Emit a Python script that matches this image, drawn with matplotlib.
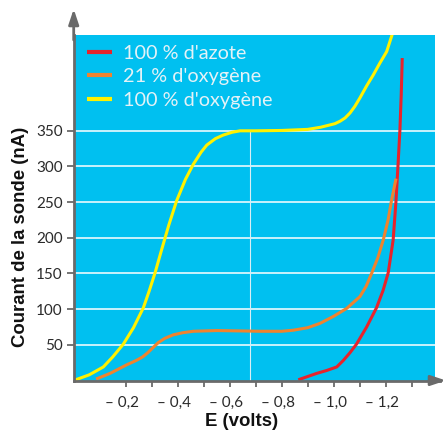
import matplotlib
matplotlib.use("Agg")
import matplotlib.pyplot as plt
from matplotlib.ticker import FixedLocator
from matplotlib.transforms import ScaledTranslation

# ---- data (E shown as magnitude in volts, current in nA) ----
azote_E = [0.864, 0.935, 0.973, 1.012, 1.037, 1.063, 1.088, 1.127, 1.165, 1.19, 1.21, 1.229, 1.24, 1.248,
           1.255, 1.26, 1.264]
azote_I = [1, 10, 14, 19, 28, 39, 51, 75, 102, 126, 151, 197, 252, 304, 351, 400, 452]

oxy21_E = [0.086, 0.14, 0.204, 0.24, 0.265, 0.285, 0.305, 0.325, 0.35, 0.383, 0.42, 0.46, 0.55, 0.64, 0.717,
           0.8, 0.845, 0.9, 0.947, 1.0, 1.05, 1.101, 1.125, 1.146, 1.17, 1.191, 1.21, 1.223, 1.24]
oxy21_I = [2, 10, 22, 28, 33, 39, 46, 53, 59, 64, 67, 69, 70, 69.5, 69,
           69, 70.5, 74, 80, 90, 101, 117.5, 132, 150, 172, 197, 226, 253, 283]

oxy100_E = [0.0, 0.06, 0.114, 0.15, 0.191, 0.23, 0.268, 0.29, 0.313, 0.338, 0.366, 0.396, 0.43, 0.46, 0.49,
            0.512, 0.545, 0.575, 0.61, 0.64, 0.7, 0.8, 0.9, 0.95, 1.005, 1.025, 1.044, 1.063, 1.082, 1.101,
            1.127, 1.152, 1.178, 1.204, 1.227]
oxy100_I = [0, 8, 19, 33, 51, 74, 102, 125, 151, 183, 218, 252, 282, 303, 320,
            330, 339, 344, 348, 350, 350, 350.5, 352, 355, 360, 363.5, 368, 375, 384.5, 396,
            413, 428, 445, 461, 487]

series_labels = ["100 % d'azote", "21 % d'oxygène", "100 % d'oxygène"]
series_colors = ["#E8232B", "#F0832E", "#FFF100"]

y_ticks = [50, 100, 150, 200, 250, 300, 350]
x_major = [0.2, 0.4, 0.6, 0.8, 1.0, 1.2]
x_major_labels = ["– 0,2", "– 0,4", "– 0,6", "– 0,8", "– 1,0", "– 1,2"]
x_minor = [0.3, 0.5, 0.7, 0.9, 1.1, 1.3]
ref_E = 0.678
plateau = 350

W, H = 446, 434
fig = plt.figure(figsize=(W / 100, H / 100), dpi=100)
fig.patch.set_facecolor("white")

left, right, bottom, top = 73.7, 435, 380.5, 34.5
ax = fig.add_axes([left / W, 1 - bottom / H, (right - left) / W, (bottom - top) / H])
ax.set_facecolor("#00C0F0")
ax.set_xlim(0, 1.39)
ax.set_ylim(0, 485)

for s in ["top", "right"]:
    ax.spines[s].set_visible(False)
for s in ["left", "bottom"]:
    ax.spines[s].set_color("#6A6A6A")
    ax.spines[s].set_linewidth(2.0)
    ax.spines[s].set_zorder(5)

# grid
for yv in y_ticks:
    ax.axhline(yv, color="white", lw=1.1, zorder=1)
ax.plot([ref_E, ref_E], [0, plateau], color="#D8EEF5", lw=0.8, zorder=1)

lines = []
for (xs, ys), lab, col in zip([(azote_E, azote_I), (oxy21_E, oxy21_I), (oxy100_E, oxy100_I)],
                              series_labels, series_colors):
    ln, = ax.plot(xs, ys, color=col, lw=2.2, label=lab, solid_capstyle="butt",
                  solid_joinstyle="round", zorder=3)
    lines.append(ln)

tick_font = ["Lato", "DejaVu Sans"]
ax.set_yticks(y_ticks)
ax.set_yticklabels([str(v) for v in y_ticks], fontsize=11, color="#2A2A2A", family=tick_font)
ax.tick_params(axis="y", length=5, width=1.3, color="#6A6A6A", pad=3)

ax.xaxis.set_major_locator(FixedLocator(x_major))
ax.xaxis.set_minor_locator(FixedLocator(x_minor))
ax.set_xticklabels(x_major_labels, fontsize=11, color="#2A2A2A", family=tick_font)
ax.tick_params(axis="x", which="both", length=4, width=1.3, color="#6A6A6A", pad=7, direction="out")
shift = ScaledTranslation(-4 / 100, 0, fig.dpi_scale_trans)
for lbl in ax.get_xticklabels():
    lbl.set_transform(lbl.get_transform() + shift)

# arrows on axes
ax.annotate("", xy=(left / W, 1 - 9 / H), xytext=(left / W, 1 - 40 / H), xycoords="figure fraction",
            arrowprops=dict(arrowstyle="-|>,head_length=0.9,head_width=0.3", color="#6A6A6A", lw=2.0,
                            shrinkA=0, shrinkB=0))
ax.annotate("", xy=(446 / W, 1 - 380.5 / H), xytext=(430 / W, 1 - 380.5 / H), xycoords="figure fraction",
            arrowprops=dict(arrowstyle="-|>,head_length=0.9,head_width=0.3", color="#6A6A6A", lw=2.0,
                            shrinkA=0, shrinkB=0))
fig.lines.append(plt.Line2D([right / W, 440 / W], [1 - 380.5 / H] * 2, transform=fig.transFigure,
                            color="#6A6A6A", lw=2.0))

leg = ax.legend(handles=lines, loc="upper left", bbox_to_anchor=(0.005, 1.005), frameon=False,
                prop=dict(family=["Lato", "DejaVu Sans"], size=14.3),
                handlelength=1.25, handletextpad=0.55, labelspacing=0.33, borderaxespad=0.2)
for t in leg.get_texts():
    t.set_color("#E4F2F7")
for h in leg.get_lines():
    h.set_linewidth(3)

bold_font = ["Liberation Sans", "DejaVu Sans"]
fig.text(242 / W, 1 - 422 / H, "E (volts)", ha="center", va="center", fontsize=13.4,
         fontweight="bold", family=bold_font, color="#111111")
fig.text(21 / W, 1 - 237 / H, "Courant de la sonde (nA)", ha="center", va="center", rotation=90,
         fontsize=13.4, fontweight="bold", family=bold_font, color="#111111")

fig.savefig("out.png", dpi=100, facecolor="white")
